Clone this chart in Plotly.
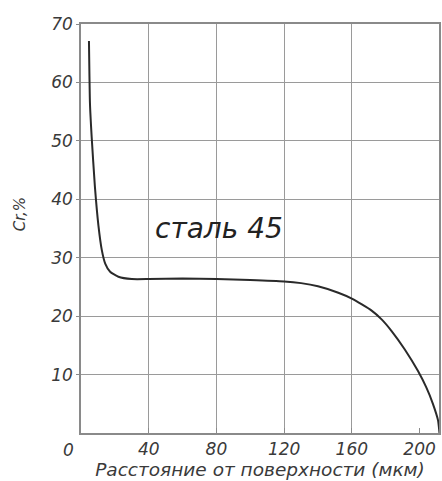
import plotly.graph_objects as go

# data
depth_um = [4.7, 5.3, 6.3, 8.2, 10.3, 12.3, 14.3, 17.2, 22.1, 30, 40, 60, 80, 100,
            120, 130, 140, 152, 160, 171.7, 177.6, 183.5, 191.3, 199.1, 204, 207.9, 210.9, 211.8]
cr_pct = [67.1, 56.4, 50.7, 42.2, 35.5, 31.3, 29.0, 27.6, 26.75, 26.35, 26.35, 26.45, 26.35, 26.2,
          25.95, 25.65, 25.1, 24.0, 23.0, 20.95, 19.45, 17.45, 14.3, 10.6, 7.8, 5.0, 2.2, 0]
x_ticks = [40, 80, 120, 160, 200]
x_grid = [40, 80, 120, 160]
y_ticks = [10, 20, 30, 40, 50, 60, 70]

FONT = "DejaVu Sans"
TXT = "#3a3a3a"
GRID = "#9a9a9a"
AX = "#8a8a8a"

fig = go.Figure()
fig.add_trace(go.Scatter(x=depth_um, y=cr_pct, mode="lines",
                         line=dict(color="#2a2a2a", width=2, shape="spline", smoothing=0.5),
                         showlegend=False, hoverinfo="skip"))
# invisible trace on grid axis
fig.add_trace(go.Scatter(x=[0], y=[0], xaxis="x2", mode="markers",
                         marker=dict(opacity=0), showlegend=False, hoverinfo="skip"))

fig.update_layout(
    width=442, height=481,
    margin=dict(l=81, r=1, t=24, b=48),
    plot_bgcolor="white", paper_bgcolor="white",
    xaxis=dict(range=[0, 211.5], tickvals=x_ticks, ticktext=[str(v) for v in x_ticks],
               showgrid=False, zeroline=False, showline=True, linecolor=AX, linewidth=1.5,
               mirror=True, ticks="inside", ticklen=5, tickcolor=AX,
               tickfont=dict(family=FONT, size=17, color=TXT, style="italic"),
               title=dict(text="Расстояние от поверхности (мкм)",
                          font=dict(family=FONT, size=18.5, color=TXT, style="italic"),
                          standoff=0)),
    xaxis2=dict(range=[0, 211.5], overlaying="x", tickvals=x_grid, showticklabels=False,
                showgrid=True, gridcolor=GRID, gridwidth=1, zeroline=False, showline=False),
    yaxis=dict(range=[0, 70], tickvals=y_ticks, ticktext=[str(v) for v in y_ticks],
               showgrid=True, gridcolor=GRID, gridwidth=1, zeroline=False,
               showline=True, linecolor=AX, linewidth=1.5, mirror=True,
               ticks="outside", ticklen=3, tickcolor=AX,
               tickfont=dict(family=FONT, size=17, color=TXT, style="italic")),
    annotations=[
        dict(text="сталь 45", x=(220 - 81) / 360, y=(433 - 229) / 409, xref="paper", yref="paper",
             xanchor="center", yanchor="middle",
             showarrow=False, font=dict(family=FONT, size=28, color="#222", style="italic")),
        dict(text="Cr,%", x=(20 - 81) / 360, y=(433 - 214) / 409, xref="paper", yref="paper",
             xanchor="center", yanchor="middle", showarrow=False,
             textangle=-90, font=dict(family=FONT, size=15, color=TXT, style="italic")),
        dict(text="0", x=0, y=0, xref="x", yref="y", showarrow=False, xshift=-13, yshift=-17,
             font=dict(family=FONT, size=17, color=TXT, style="italic")),
    ],
)

fig.write_html("out.html", config={"displayModeBar": False},
               post_script="document.body.style.margin='0';")
